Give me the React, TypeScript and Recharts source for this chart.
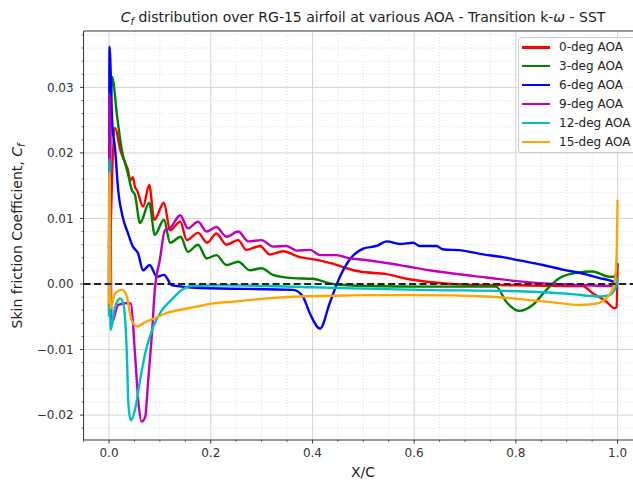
import React from "react";
import { LineChart, Line, XAxis, YAxis, CartesianGrid, ReferenceLine } from "recharts";

// axis ranges and ticks
const X_DOMAIN = [-0.05, 1.05];
const Y_DOMAIN = [-0.0238, 0.0386];
const X_MAJOR = [0, 0.2, 0.4, 0.6, 0.8, 1.0];
const X_MINOR = [-0.05, 0.05, 0.1, 0.15, 0.25, 0.3, 0.35, 0.45, 0.5, 0.55, 0.65, 0.7, 0.75, 0.85, 0.9, 0.95, 1.05];
const Y_MAJOR = [-0.02, -0.01, 0, 0.01, 0.02, 0.03];
const Y_MINOR = [
  -0.022, -0.018, -0.016, -0.014, -0.012, -0.008, -0.006, -0.004, -0.002, 0.002, 0.004, 0.006, 0.008,
  0.012, 0.014, 0.016, 0.018, 0.022, 0.024, 0.026, 0.028, 0.032, 0.034, 0.036, 0.038,
];

// 0-deg AOA
const X_AOA0 = [
  0, 0.012, 0.022, 0.03, 0.037, 0.042, 0.047, 0.051, 0.055, 0.067, 0.079, 0.089, 0.108, 0.12, 0.14, 0.153,
  0.175, 0.193, 0.211, 0.231, 0.254, 0.27, 0.297, 0.316, 0.342, 0.375, 0.4, 0.44, 0.467, 0.493, 0.546, 0.585,
  0.63, 0.7, 0.8, 0.9, 0.931, 0.951, 0.978, 0.994, 0.998, 1.0,
];
const CF_AOA0 = [
  -0.0015, 0.0238, 0.0205, 0.0188, 0.0174, 0.0158, 0.0163, 0.0148, 0.0143, 0.0118, 0.0151, 0.0098, 0.0124,
  0.0082, 0.0095, 0.0067, 0.0078, 0.0063, 0.0077, 0.006, 0.0067, 0.0052, 0.0058, 0.0045, 0.005, 0.0041,
  0.0038, 0.0031, 0.0024, 0.0019, 0.0015, 0.0008, 0.0003, -0.0001, -0.0002, -0.0003, -0.0003, -0.0014,
  -0.0027, -0.0037, -0.0035, 0.0032,
];

// 3-deg AOA
const X_AOA3 = [
  0, 0.006, 0.016, 0.025, 0.037, 0.045, 0.051, 0.061, 0.079, 0.09, 0.108, 0.12, 0.141, 0.155, 0.175, 0.192,
  0.211, 0.231, 0.254, 0.277, 0.3, 0.322, 0.362, 0.4, 0.44, 0.506, 0.63, 0.761, 0.781, 0.807, 0.833, 0.86,
  0.886, 0.919, 0.951, 0.984, 0.994, 1.0,
];
const CF_AOA3 = [
  0.0055, 0.0316, 0.0255, 0.0205, 0.0169, 0.0143, 0.0136, 0.0093, 0.0124, 0.0075, 0.0098, 0.0063, 0.0072,
  0.0049, 0.006, 0.0039, 0.0044, 0.0029, 0.0034, 0.0021, 0.0024, 0.0014, 0.0009, 0.0008, 0.0, -0.0003,
  -0.0004, -0.0004, -0.0027, -0.0041, -0.0032, -0.0009, 0.0009, 0.0017, 0.0019, 0.0011, 0.0011, 0.003,
];

// 6-deg AOA
const X_AOA6 = [
  0, 0.001, 0.006, 0.012, 0.018, 0.027, 0.037, 0.047, 0.057, 0.067, 0.08, 0.094, 0.108, 0.124, 0.179, 0.362,
  0.381, 0.395, 0.415, 0.434, 0.454, 0.473, 0.5, 0.526, 0.546, 0.572, 0.598, 0.611, 0.644, 0.656, 0.696,
  0.729, 0.774, 0.807, 0.853, 0.892, 0.931, 0.965, 0.99, 1.0,
];
const CF_AOA6 = [
  0.0, 0.0362, 0.025, 0.0205, 0.0143, 0.0102, 0.0078, 0.0057, 0.0047, 0.0021, 0.0029, 0.0011, 0.0014,
  -0.0002, -0.0006, -0.0009, -0.0019, -0.0045, -0.0068, -0.0029, 0.0011, 0.0037, 0.0054, 0.0058, 0.0065,
  0.0061, 0.0063, 0.0058, 0.0058, 0.0053, 0.0051, 0.0046, 0.0041, 0.0036, 0.0029, 0.0022, 0.0016, 0.0009,
  0.0004, 0.0,
];

// 9-deg AOA
const X_AOA9 = [
  0, 0.001, 0.005, 0.018, 0.037, 0.043, 0.051, 0.058, 0.064, 0.071, 0.077, 0.084, 0.09, 0.1, 0.11, 0.12,
  0.14, 0.155, 0.175, 0.192, 0.211, 0.231, 0.254, 0.274, 0.3, 0.323, 0.349, 0.369, 0.395, 0.415, 0.447,
  0.473, 0.5, 0.546, 0.585, 0.63, 0.676, 0.742, 0.807, 0.873, 0.938, 0.99, 1.0,
];
const CF_AOA9 = [
  -0.004, 0.029, -0.006, -0.0032, -0.0029, -0.003, -0.0106, -0.0182, -0.021, -0.0203, -0.0147, -0.008,
  -0.0009, 0.0037, 0.0082, 0.0085, 0.0105, 0.0085, 0.0095, 0.008, 0.0087, 0.0072, 0.008, 0.0065, 0.0067,
  0.0057, 0.0058, 0.0051, 0.0052, 0.0044, 0.0044, 0.0039, 0.0037, 0.0032, 0.0027, 0.0021, 0.0016, 0.001,
  0.0004, 0.0, -0.0002, -0.0003, 0.0,
];

// 12-deg AOA
const X_AOA12 = [
  0, 0.001, 0.003, 0.012, 0.022, 0.028, 0.035, 0.038, 0.043, 0.051, 0.061, 0.071, 0.087, 0.104, 0.123, 0.143,
  0.162, 0.228, 0.4, 0.611, 0.807, 0.906, 0.965, 0.984, 0.997, 1.0,
];
const CF_AOA12 = [
  -0.005, 0.019, -0.007, -0.0035, -0.0022, -0.003, -0.0106, -0.0182, -0.0208, -0.0192, -0.0147, -0.0106,
  -0.0065, -0.004, -0.0024, -0.0009, -0.0003, -0.0002, -0.0005, -0.0009, -0.0011, -0.0015, -0.0019,
  -0.0017, -0.0004, 0.001,
];

// 15-deg AOA
const X_AOA15 = [
  0, 0.001, 0.003, 0.012, 0.025, 0.035, 0.044, 0.056, 0.067, 0.081, 0.097, 0.11, 0.136, 0.169, 0.202, 0.244,
  0.31, 0.375, 0.44, 0.506, 0.611, 0.742, 0.807, 0.873, 0.925, 0.958, 0.981, 0.994, 0.998, 1.0,
];
const CF_AOA15 = [
  -0.003, 0.017, -0.0037, -0.0014, -0.0009, -0.0019, -0.0055, -0.0065, -0.006, -0.0055, -0.005, -0.0045,
  -0.004, -0.0035, -0.003, -0.0027, -0.0022, -0.0019, -0.0018, -0.0017, -0.0017, -0.0019, -0.0023, -0.0028,
  -0.0032, -0.003, -0.0019, 0.0001, 0.004, 0.0128,
];

const SERIES = [
  { name: "0-deg AOA", color: "#ff0000", xs: X_AOA0, ys: CF_AOA0 },
  { name: "3-deg AOA", color: "#008000", xs: X_AOA3, ys: CF_AOA3 },
  { name: "6-deg AOA", color: "#0000ff", xs: X_AOA6, ys: CF_AOA6 },
  { name: "9-deg AOA", color: "#bf00bf", xs: X_AOA9, ys: CF_AOA9 },
  { name: "12-deg AOA", color: "#00bfbf", xs: X_AOA12, ys: CF_AOA12 },
  { name: "15-deg AOA", color: "#ffa500", xs: X_AOA15, ys: CF_AOA15 },
];

const FONT = "'DejaVu Sans', sans-serif";
const INK = "#333";

const isMajor = (list: number[], v: number) => list.some((m) => Math.abs(m - v) < 1e-9);
const fmt = (v: number, d: number) => (v < 0 ? "\u2212" + Math.abs(v).toFixed(d) : v.toFixed(d));

function XTick(props: any) {
  const { x, y, payload } = props;
  const major = isMajor(X_MAJOR, payload.value);
  return (
    <g>
      <line x1={x} x2={x} y1={y} y2={y + (major ? 3.5 : 2)} stroke={INK} strokeWidth={major ? 1 : 0.7} />
      {major && (
        <text x={x} y={y + 16.5} textAnchor="middle" fontSize={12} fill={INK} fontFamily={FONT}>
          {fmt(payload.value, 1)}
        </text>
      )}
    </g>
  );
}

function YTick(props: any) {
  const { x, y, payload } = props;
  const major = isMajor(Y_MAJOR, payload.value);
  return (
    <g>
      <line x1={x} x2={x - (major ? 3.5 : 2)} y1={y} y2={y} stroke={INK} strokeWidth={major ? 1 : 0.7} />
      {major && (
        <text x={x - 10} y={y + 4.3} textAnchor="end" fontSize={12} fill={INK} fontFamily={FONT}>
          {fmt(payload.value, 2)}
        </text>
      )}
    </g>
  );
}

export default function App() {
  return (
    <div style={{ position: "absolute", left: 0, top: 0, width: 633, height: 485, overflow: "hidden", background: "#fff" }}>
      <LineChart width={660} height={485} margin={{ top: 31, right: 17, bottom: 25, left: 63.6 }}>
        <CartesianGrid verticalValues={X_MINOR} horizontalValues={Y_MINOR} stroke="#dedede" strokeDasharray="1 2" />
        <CartesianGrid verticalValues={X_MAJOR} horizontalValues={Y_MAJOR} stroke="#d4d4d4" />
        <XAxis
          type="number"
          dataKey="x"
          domain={X_DOMAIN}
          allowDataOverflow
          ticks={[...X_MAJOR, ...X_MINOR]}
          interval={0}
          height={20}
          tickSize={0}
          tickMargin={0}
          tickLine={false}
          tick={XTick}
          axisLine={{ stroke: INK, strokeWidth: 1 }}
        />
        <YAxis
          type="number"
          domain={Y_DOMAIN}
          allowDataOverflow
          ticks={[...Y_MAJOR, ...Y_MINOR]}
          interval={0}
          width={20}
          tickSize={0}
          tickMargin={0}
          tickLine={false}
          tick={YTick}
          axisLine={{ stroke: INK, strokeWidth: 1 }}
        />
        {SERIES.map((s) => (
          <Line
            key={s.name}
            name={s.name}
            data={s.xs.map((x, i) => ({ x, cf: s.ys[i] }))}
            dataKey="cf"
            type="monotoneX"
            stroke={s.color}
            strokeWidth={2.4}
            strokeLinejoin="round"
            dot={false}
            activeDot={false}
            isAnimationActive={false}
          />
        ))}
        <ReferenceLine y={0} stroke="#222" strokeWidth={2} strokeDasharray="7 3.5" />
        <ReferenceLine y={Y_DOMAIN[1]} stroke={INK} strokeWidth={1} />
      </LineChart>

      <svg width={633} height={485} style={{ position: "absolute", left: 0, top: 0, pointerEvents: "none" }} fontFamily={FONT}>
        <text x={363} y={22} textAnchor="middle" fontSize={14} fill="#222">
          <tspan fontStyle="italic">C</tspan>
          <tspan fontStyle="italic" fontSize={10} dy={3}>f</tspan>
          <tspan dy={-3}> distribution over RG-15 airfoil at various AOA - Transition k-</tspan>
          <tspan fontStyle="italic">ω</tspan>
          <tspan> - SST</tspan>
        </text>
        <text x={363} y={477} textAnchor="middle" fontSize={14} fill="#222">X/C</text>
        <text transform="translate(22 236) rotate(-90)" textAnchor="middle" fontSize={14} fill="#222">
          Skin friction Coefficient, <tspan fontStyle="italic">C</tspan>
          <tspan fontStyle="italic" fontSize={10} dy={3}>f</tspan>
        </text>
      </svg>

      <div
        style={{
          position: "absolute",
          left: 518,
          top: 37,
          width: 130,
          height: 116,
          boxSizing: "border-box",
          border: "1px solid #cccccc",
          borderRadius: 3,
          background: "rgba(255,255,255,0.8)",
          fontFamily: FONT,
          fontSize: 12,
          color: "#222",
        }}
      >
        {SERIES.map((s, i) => (
          <div key={s.name} style={{ position: "absolute", left: 3, top: 9.3 + i * 18.9 - 8, height: 16, display: "flex", alignItems: "center" }}>
            <span style={{ display: "inline-block", width: 28, height: 2.6, background: s.color }} />
            <span style={{ marginLeft: 9, whiteSpace: "nowrap" }}>{s.name}</span>
          </div>
        ))}
      </div>
    </div>
  );
}
